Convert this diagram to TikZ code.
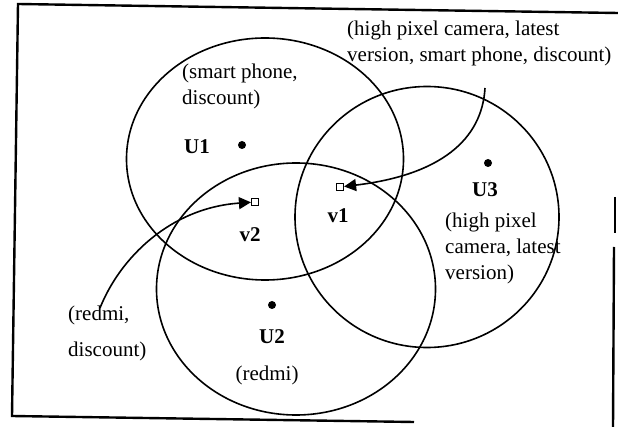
\documentclass[tikz,border=0pt]{standalone}
\usepackage{fontspec}
\setmainfont{Liberation Serif}
\usetikzlibrary{shapes.geometric,arrows.meta}

\begin{document}
\begin{tikzpicture}[
  x=1pt, y=-1pt,
  font=\fontsize{21}{26}\selectfont,
  zone/.style={ellipse,draw,line width=1.6pt,inner sep=0pt,outer sep=0pt},
  user/.style={circle,fill,inner sep=0pt,minimum size=8pt},
  item/.style={rectangle,draw,line width=1.2pt,inner sep=0pt,minimum size=7pt,fill=white},
  tag/.style={inner sep=0pt,anchor=west,align=left},
  ulabel/.style={inner sep=0pt,font=\fontsize{21}{26}\selectfont\bfseries},
  link/.style={line width=1.6pt,-{Triangle[length=12pt,width=12pt]}},
  frame/.style={line width=2.4pt}
]
  \useasboundingbox (0,0) rectangle (618,427);
  \draw[frame] (414,422) -- (12,416) -- (18,4) -- (618,13);
  \draw[frame] (615,197) -- (615,233);
  \draw[frame] (614,247) -- (613,427);
  \node[zone,minimum width=277pt,minimum height=242pt] (z1) at (265,159) {};
  \node[zone,minimum width=279pt,minimum height=252pt] (z2) at (296,289) {};
  \node[zone,minimum width=264pt,minimum height=261pt] (z3) at (427,217) {};
  \node[user] (u1) at (242,145) {};
  \node[user] (u2) at (272,305) {};
  \node[user] (u3) at (488,163) {};
  \node[ulabel] (n1) at (197,147) {U1};
  \node[ulabel] (n2) at (272,337) {U2};
  \node[ulabel] (n3) at (485,190) {U3};
  \node[ulabel] (n4) at (338,216) {v1};
  \node[ulabel] (n5) at (250,235) {v2};
  \node[tag] (p1) at (182,86) {(smart phone,\\discount)};
  \node[tag] (p2) at (347,43) {(high pixel camera, latest\\version, smart phone, discount)};
  \node[tag] (p3) at (445,248) {(high pixel\\camera, latest\\version)};
  \node[tag] (p4) at (68,333) {(redmi,\\[10pt]discount)};
  \node[inner sep=0pt] (p5) at (267,375) {(redmi)};
  \coordinate (t1) at (485,88);
  \coordinate (t2) at (100,308);
  \node[item] (v1) at (340,187) {};
  \node[item] (v2) at (255,202) {};
  \draw[link] (t1) .. controls (482,140) and (440,175) .. (v1);
  \draw[link] (t2) .. controls (120,258) and (170,208) .. (v2);
\end{tikzpicture}
\end{document}
